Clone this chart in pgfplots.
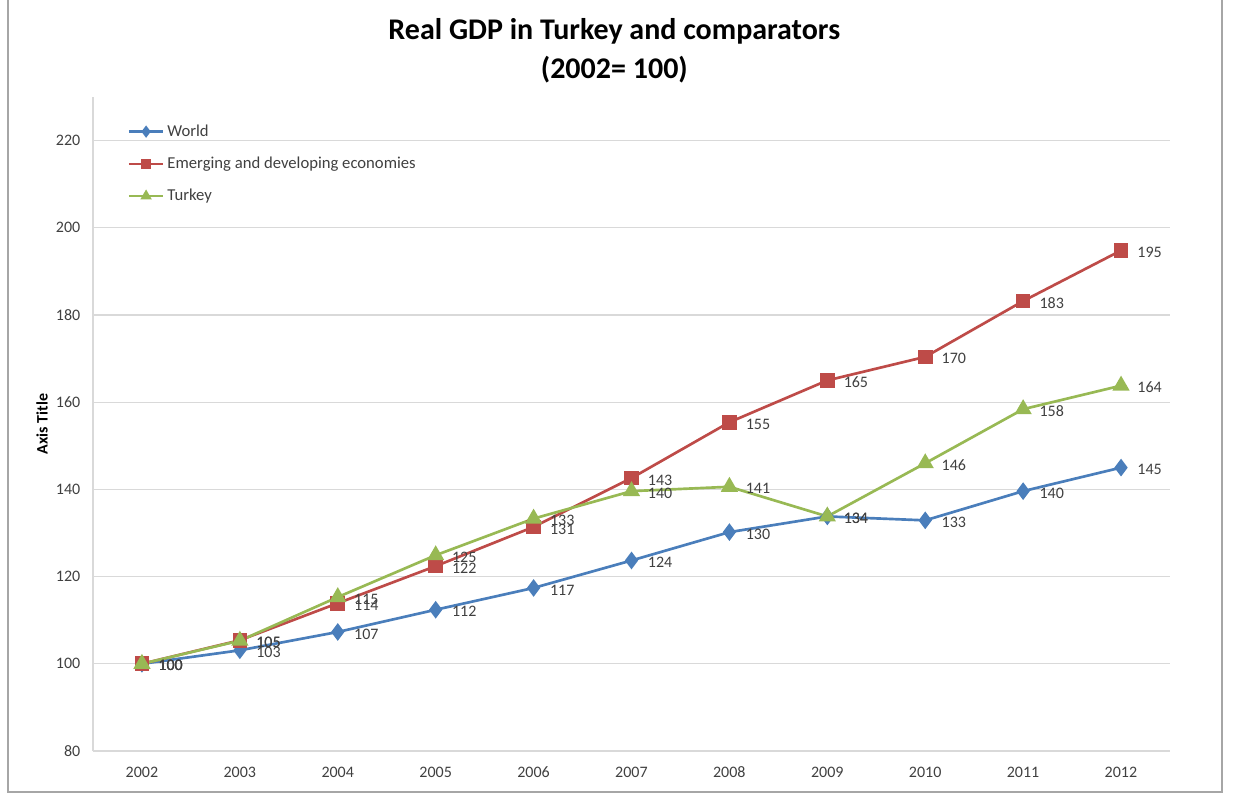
\documentclass[border=0pt]{standalone}
\usepackage{pgfplots}
\pgfplotsset{compat=1.18}
\usepackage{fontspec}
\setmainfont{Carlito}

\definecolor{worldc}{HTML}{4A7EBB}
\definecolor{emergc}{HTML}{BE4B48}
\definecolor{turkc}{HTML}{98B954}
\definecolor{gridc}{HTML}{D9D9D9}
\definecolor{lblc}{HTML}{404040}

% 1 px of the reference = 0.75pt, axis origin at px (93,751)
\begin{document}
\begin{tikzpicture}
\path[use as bounding box] (-69.75pt,-32.25pt) rectangle (856.5pt,563.25pt);
\draw[gray!70, line width=1pt] (-63.75pt,563.25pt) -- (-63.75pt,-30.75pt) -- (846.75pt,-30.75pt) -- (846.75pt,563.25pt);
\node[font=\fontsize{22.5}{29}\selectfont\bfseries, align=center] at (391pt,525pt)
  {Real GDP in Turkey and comparators\\(2002= 100)};
\begin{axis}[
  at={(0pt,0pt)}, anchor=south west,
  scale only axis, width=807.75pt, height=490.5pt,
  xmin=2001.5, xmax=2012.5, ymin=80, ymax=230,
  xtick={2002,...,2012}, ytick={80,100,...,220},
  /pgf/number format/1000 sep={},
  /pgf/number format/assume math mode=true,
  major tick length=0pt,
  ymajorgrids, grid style={gridc, line width=1pt},
  axis lines=left, axis line style={-, draw=gridc, line width=1pt},
  tick label style={font=\fontsize{12}{14}\selectfont, text=lblc},
  xticklabel style={yshift=-8pt, text height=8pt, text depth=0pt},
  yticklabel style={xshift=-6pt},
  ylabel={Axis Title},
  ylabel style={at={(axis description cs:-0.0474,0.5)}, anchor=center,
    font=\fontsize{12}{14}\selectfont\bfseries},
  legend style={at={(axis description cs:0.028,0.966)}, anchor=north west,
    draw=none, fill=none, font=\fontsize{12.5}{14}\selectfont, text=lblc,
    row sep=10pt, cells={anchor=west},
    /tikz/every even column/.append style={column sep=0pt}},
  legend image code/.code={\draw[mark repeat=2,mark phase=2,mark size=3pt]
    plot coordinates {(0pt,0pt)(13pt,0pt)(26pt,0pt)};},
  every axis plot/.append style={line width=2pt},
  point meta=y,
  nodes near coords={\pgfmathprintnumber[fixed,precision=0]{\pgfplotspointmeta}},
  nodes near coords style={anchor=west, xshift=8pt, yshift=-1.5pt,
    font=\fontsize{12}{14}\selectfont, text=lblc},
]
\addplot[color=worldc, mark=diamond*, mark size=5pt] coordinates {
  (2002,100) (2003,103.1) (2004,107.3) (2005,112.4) (2006,117.4) (2007,123.7)
  (2008,130.2) (2009,133.8) (2010,132.9) (2011,139.6) (2012,145.0)};
\addlegendentry{World}
\addplot[color=emergc, mark=square*, mark size=4.5pt] coordinates {
  (2002,100) (2003,105.4) (2004,113.9) (2005,122.4) (2006,131.4) (2007,142.6)
  (2008,155.4) (2009,165.0) (2010,170.4) (2011,183.2) (2012,194.8)};
\addlegendentry{Emerging and developing economies}
\addplot[color=turkc, mark=triangle*, mark size=5.5pt] coordinates {
  (2002,100) (2003,105.3) (2004,115.3) (2005,124.9) (2006,133.3) (2007,139.6)
  (2008,140.6) (2009,133.8) (2010,146.0) (2011,158.4) (2012,163.8)};
\addlegendentry{Turkey}
\end{axis}
\end{tikzpicture}
\end{document}
